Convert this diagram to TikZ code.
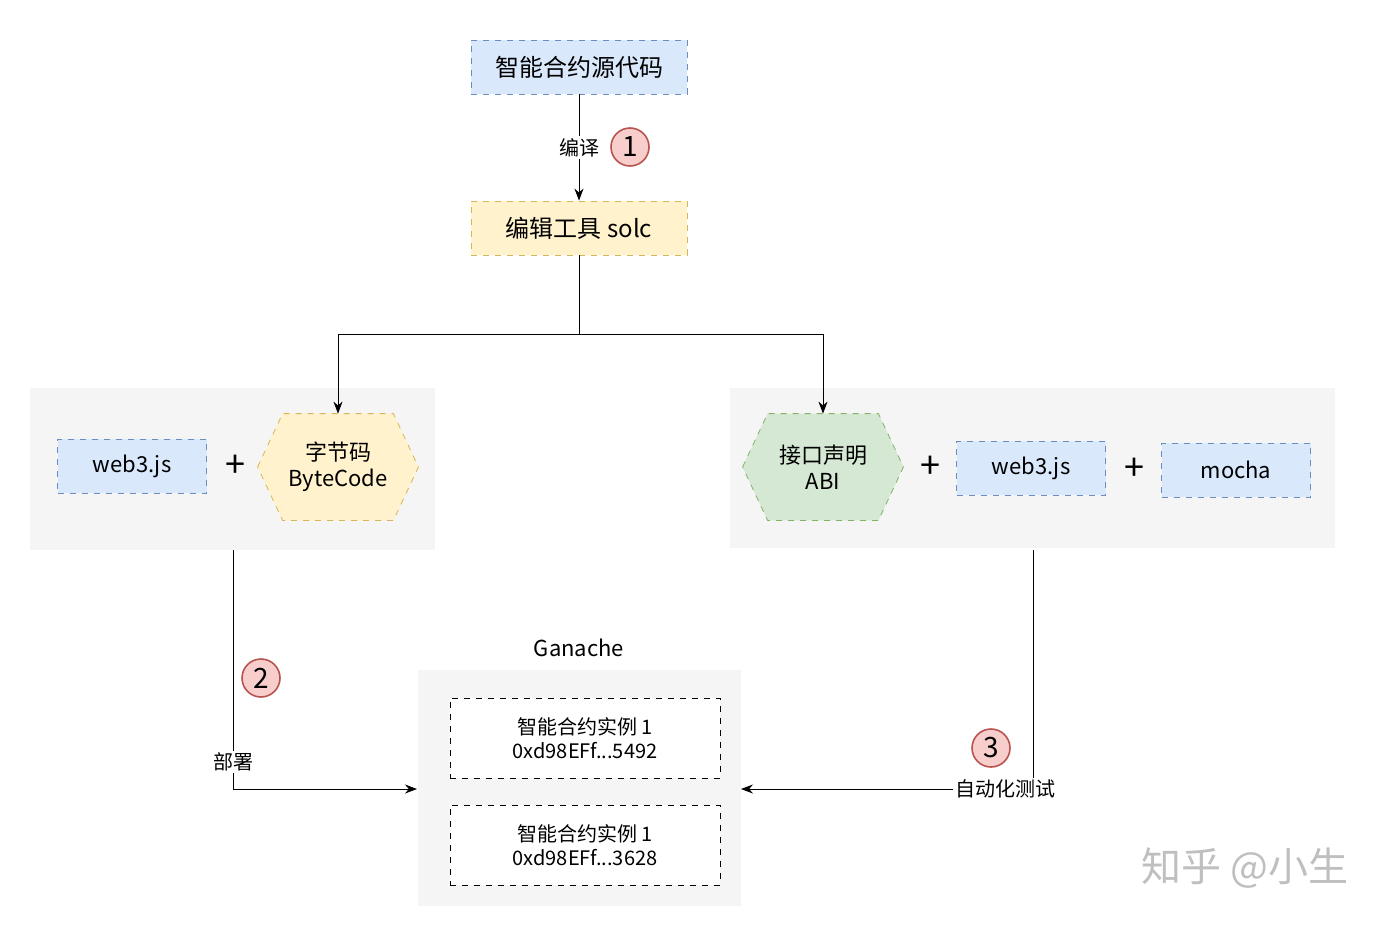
\documentclass[tikz,border=0pt]{standalone}
\usepackage{fontspec}
\setmainfont{Noto Sans CJK SC}
\usetikzlibrary{arrows.meta}
\definecolor{bfill}{HTML}{DAE8FC}\definecolor{bline}{HTML}{6C8EBF}
\definecolor{yfill}{HTML}{FFF2CC}\definecolor{yline}{HTML}{D6B656}
\definecolor{gfill}{HTML}{D5E8D4}\definecolor{gline}{HTML}{82B366}
\definecolor{rfill}{HTML}{F8CECC}\definecolor{rline}{HTML}{B85450}
\definecolor{bg}{HTML}{F5F5F5}
\tikzset{x=0.5pt,y=-0.5pt,
 box/.style={draw=#1line,fill=#1fill,dashed,minimum width=108pt,minimum height=27pt,font=\fontsize{12}{14}\selectfont,inner sep=0pt},
 sbox/.style={draw=bline,fill=bfill,dashed,minimum width=74.5pt,minimum height=27pt,font=\fontsize{11}{13}\selectfont,inner sep=0pt},
 hexa/.style={minimum width=80pt,minimum height=53pt,inner sep=0pt,align=center,font=\fontsize{11}{13}\selectfont,
   append after command={\pgfextra{\let\hn\tikzlastnode}
   [draw=#1line,fill=#1fill,dashed] ($(\hn.west)$) -- ($(\hn.north west)+(25,0)$) -- ($(\hn.north east)+(-25,0)$) -- (\hn.east) -- ($(\hn.south east)+(-25,0)$) -- ($(\hn.south west)+(25,0)$) -- cycle}},
 num/.style={circle,draw=rline,fill=rfill,thick,minimum size=19pt,inner sep=0pt,font=\fontsize{14}{14}\selectfont},
 inst/.style={draw,dashed,fill=white,minimum width=135pt,minimum height=40pt,align=center,font=\fontsize{10}{12}\selectfont},
 plus/.style={font=\fontsize{18}{18}\selectfont},
 lbl/.style={fill=white,inner sep=1pt,font=\fontsize{10}{12}\selectfont},
 arr/.style={-{Stealth[length=6pt]}}}
\usetikzlibrary{calc}
\begin{document}
\begin{tikzpicture}
\useasboundingbox (0,0) rectangle (1390,926);
\fill[bg] (30,388) rectangle (435,550);
\fill[bg] (730,388) rectangle (1335,548);
\fill[bg] (418,670) rectangle (741,906);
\node[box=b] (src) at (579,67) {智能合约源代码};
\node[box=y] (solc) at (579,228) {编辑工具 solc};
\draw[arr] (src) -- node[lbl] (bianyi) {编译} (solc);
\node[num] (n1) at (630,147) {1};
\node[sbox] (w1) at (132,466) {web3.js};
\node[plus] (p1) at (235,466) {+};
\node[minimum width=80pt,minimum height=53pt] (bc) at (338,467) {};
\draw[draw=yline,fill=yfill,dashed] (bc.west) -- ($(bc.north west)+(25,0)$) -- ($(bc.north east)+(-25,0)$) -- (bc.east) -- ($(bc.south east)+(-25,0)$) -- ($(bc.south west)+(25,0)$) -- cycle;
\node[align=center,font=\fontsize{11}{13}\selectfont] (bct) at (bc) {字节码\\ByteCode};
\node[minimum width=80pt,minimum height=53pt] (abi) at (823,467) {};
\draw[draw=gline,fill=gfill,dashed] (abi.west) -- ($(abi.north west)+(25,0)$) -- ($(abi.north east)+(-25,0)$) -- (abi.east) -- ($(abi.south east)+(-25,0)$) -- ($(abi.south west)+(25,0)$) -- cycle;
\node[align=center,font=\fontsize{11}{13}\selectfont] (abit) at (abi) {接口声明\\ABI};
\node[plus] (p2) at (930,467) {+};
\node[sbox] (w2) at (1031,468) {web3.js};
\node[plus] (p3) at (1134,469) {+};
\node[sbox] (mo) at (1236,470) {mocha};
\coordinate (j) at (579,334);
\draw (solc.south) -- (j);
\draw[arr] (j) -| (bc.north);
\draw[arr] (j) -| (abi.north);
\node[font=\fontsize{11}{13}\selectfont] (gan) at (579,648) {Ganache};
\node[inst] (i1) at (585,738) {智能合约实例 1\\0xd98EFf...5492};
\node[inst] (i2) at (585,845) {智能合约实例 1\\0xd98EFf...3628};
\coordinate (l0) at (233,550);
\coordinate (l1) at (233,789);
\coordinate (g1) at (417,789);
\draw (l0) -- (l1);
\draw[arr] (l1) -- (g1);
\node[lbl] (bs) at (233,762) {部署};
\node[num] (n2) at (261,678) {2};
\coordinate (r0) at (1033,550);
\coordinate (r1) at (1033,789);
\coordinate (g2) at (741,789);
\draw (r0) -- (r1);
\draw[arr] (r1) -- (g2);
\node[lbl] (zd) at (1005,789) {自动化测试};
\node[num] (n3) at (991,748) {3};
\node[text=black!25,font=\fontsize{20}{20}\selectfont] (wm) at (1245,868) {知乎 @小生};
\end{tikzpicture}
\end{document}
